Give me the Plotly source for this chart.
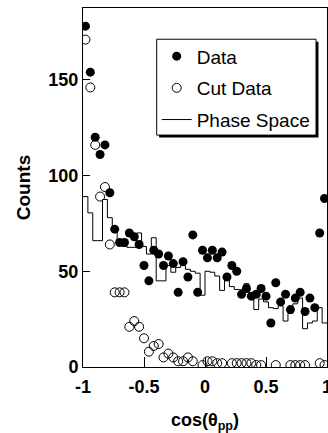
import numpy as np
import plotly.graph_objects as go

# ---- data (50 bins in cos(theta_pp) from -1 to 1) ----
N_BINS = 50
X_MIN, X_MAX = -1.0, 1.0

data_counts = [178, 154, 120, 111, 116, 91, 72, 65, 65, 70,
               68, 64, 53, 45, 61, 59, 53, 58, 54, 39,
               55, 47, 69, 39, 61, 57, 61, 57, 60, 47,
               53, 50, 38, 41, 37, 38, 41, 37, 23, 44,
               34, 38, 30, 36, 39, 29, 36, 31, 70, 88]

cut_counts = [171, 146, 116, 89, 94, 64, 39, 39, 39, 21,
              24, 21, 15, 8, 11, 12, 5, 7, 5, 3,
              3, 5, 3, None, 1, 3, 3, 2, 2, None,
              2, 2, 2, 2, 2, 1, 1, None, None, 1,
              None, None, 1, 1, 1, 1, None, None, 2, 1]

phase_space = [89, 80.5, 66, 66, 87.5, 78, 73, 66, 63, 62.5,
               62.5, 70, 63, 59, 67.5, 45, 45, 53, 49.5, 52,
               53, 51, 50, 49, 37.5, 50, 49.5, 47.5, 40, 45.5,
               42, 40.5, 40.3, 43.5, 36, 30, 35.5, 34, 31, 30.5,
               32, 24, 28, 33, 36, 20, 23, 24, 31, 23]

x_ticks = [-1, -0.5, 0, 0.5, 1]
x_ticklabels = ["-1", "-0.5", "0", "0.5", "1"]
y_ticks = [0, 50, 100, 150]
y_ticklabels = ["0", "50", "100", "150"]

# ---- derived bin geometry ----
edges = np.linspace(X_MIN, X_MAX, N_BINS + 1)
centers = 0.5 * (edges[:-1] + edges[1:])

FONT = "Liberation Sans, Arial, sans-serif"

fig = go.Figure()

fig.add_trace(go.Scatter(
    x=centers, y=data_counts, mode="markers", name="Data",
    marker=dict(symbol="circle", size=9, color="black"),
    legendgroup="a",
))
fig.add_trace(go.Scatter(
    x=centers, y=cut_counts, mode="markers", name="Cut Data",
    marker=dict(symbol="circle-open", size=9, color="black", line=dict(width=1)),
    legendgroup="b",
))
fig.add_trace(go.Scatter(
    x=list(edges), y=list(phase_space) + [phase_space[-1]],
    mode="lines", name="Phase Space", line_shape="hv",
    line=dict(color="black", width=1),
    legendgroup="c",
))

fig.update_layout(
    width=328, height=433, autosize=False,
    margin=dict(l=83, r=1, t=8, b=66, autoexpand=False),
    paper_bgcolor="white", plot_bgcolor="white",
    font=dict(family=FONT, color="black"),
    showlegend=True,
    legend=dict(
        x=0.302, y=0.9184, xanchor="left", yanchor="top",
        bgcolor="rgba(0,0,0,0)", borderwidth=0,
        font=dict(family=FONT, size=19, color="black"),
        traceorder="grouped", tracegroupgap=4,
    ),
    shapes=[
        # legend drop shadow
        dict(type="rect", xref="paper", yref="paper", layer="above",
             x0=0.312, x1=0.965, y0=0.639, y1=0.906,
             fillcolor="black", line=dict(width=0)),
        # legend frame
        dict(type="rect", xref="paper", yref="paper", layer="above",
             x0=0.302, x1=0.955, y0=0.646, y1=0.913,
             fillcolor="white", line=dict(color="black", width=1)),
    ],
)

fig.update_xaxes(
    range=[X_MIN, X_MAX], tickvals=x_ticks, ticktext=x_ticklabels,
    ticks="inside", ticklen=10, tickwidth=1, tickcolor="black",
    showline=True, linecolor="black", linewidth=1, mirror=True,
    showgrid=False, zeroline=False, ticklabeloverflow="allow",
    automargin=False, ticklabelstandoff=3,
    tickfont=dict(family=FONT, size=18, weight="bold", color="black"),
    title=dict(text="cos(θ<sub>pp</sub>)", standoff=20,
               font=dict(family=FONT, size=18, weight="bold", color="black")),
)
fig.update_yaxes(
    range=[0, 187.5], tickvals=y_ticks, ticktext=y_ticklabels,
    ticks="inside", ticklen=7, tickwidth=1, tickcolor="black",
    showline=True, linecolor="black", linewidth=1, mirror=True,
    showgrid=False, zeroline=False, automargin=False,
    tickfont=dict(family=FONT, size=18, weight="bold", color="black"),
    title=dict(text="Counts", standoff=12,
               font=dict(family=FONT, size=19, weight="bold", color="black")),
)

fig.write_html(
    "out.html",
    config={"displayModeBar": False},
    post_script="document.body.style.margin='0';document.body.style.overflow='hidden';",
)
